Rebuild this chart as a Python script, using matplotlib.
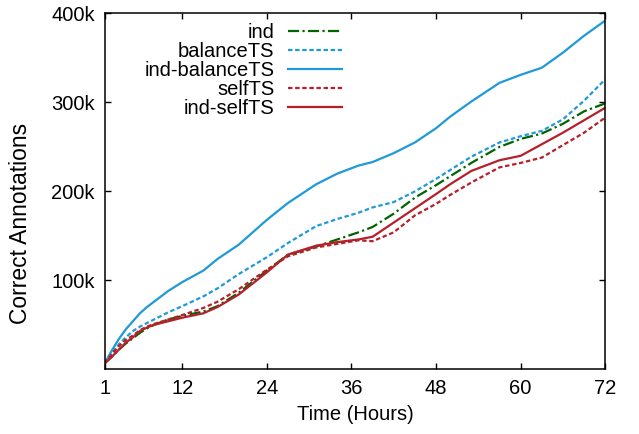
import matplotlib
matplotlib.use("Agg")
import matplotlib.pyplot as plt

plt.rcParams['font.family'] = ['Liberation Sans', 'DejaVu Sans']

# hours and correct annotations (in thousands)
hours = [1, 2, 3, 4, 5, 6, 7, 8, 10, 12, 15, 17, 20, 24, 27, 31, 34, 37, 39, 42, 45, 48, 50, 53, 57, 60, 63, 66, 69, 72]

ind = [6.7, 14, 22, 29, 35, 41, 46, 50, 56, 60, 65, 71, 86, 111, 129, 138, 146, 154, 160, 175, 193, 207, 217, 232, 250, 259, 265, 276, 290, 299]
balance_ts = [6.7, 18, 28, 36, 43, 48, 52, 56, 64, 71, 82, 91, 107, 126, 142, 161, 169, 176, 182, 188, 200, 214, 224, 239, 255, 262, 268, 281, 302, 326]
ind_balance_ts = [6.7, 21, 34, 45, 54, 63, 70, 76, 88, 98, 111, 124, 140, 168, 187, 208, 220, 229, 233, 243, 255, 271, 284, 301, 322, 331, 339, 356, 375, 392]
self_ts = [6.7, 17, 26, 33, 38, 44, 48, 51, 56, 61, 69, 76, 90, 112, 127, 137, 141, 145, 144, 154, 173, 186, 196, 210, 227, 232, 238, 252, 266, 283]
ind_self_ts = [6.7, 14, 22, 30, 36, 43, 47, 50, 54, 58, 63, 70, 84, 109, 129, 139, 143, 146, 149, 165, 181, 197, 208, 223, 235, 240, 253, 266, 280, 294]

x_ticks = [1, 12, 24, 36, 48, 60, 72]
y_ticks = [100, 200, 300, 400]

green = '#006400'
blue = '#1f9ad6'
red = '#b5202a'

fs = 14.5

fig = plt.figure(figsize=(6.39, 4.34), dpi=100)
ax = fig.add_axes([0.1638, 0.149, 0.7834, 0.820])

lw = 1.6
ax.plot(hours, ind, color=green, lw=lw, dashes=(5, 1.5, 1, 1.5), label='ind')
ax.plot(hours, balance_ts, color=blue, lw=lw, dashes=(2, 1.2), label='balanceTS')
ax.plot(hours, ind_balance_ts, color=blue, lw=lw, label='ind-balanceTS')
ax.plot(hours, self_ts, color=red, lw=lw, dashes=(2, 1.2), label='selfTS')
ax.plot(hours, ind_self_ts, color=red, lw=lw, label='ind-selfTS')

ax.set_xlim(1, 72)
ax.set_ylim(0, 400)
ax.set_xticks(x_ticks)
ax.set_yticks(y_ticks)
ax.set_yticklabels([f'{v}k' for v in y_ticks])
ax.tick_params(direction='in', length=4.5, width=1, top=True, right=True,
               labelsize=fs, pad=7)
for s in ax.spines.values():
    s.set_linewidth(1.1)

ax.set_xlabel('Time (Hours)', fontsize=fs, labelpad=5)
ax.set_ylabel('Correct Annotations', fontsize=16.5)
ax.yaxis.set_label_coords(-0.145, 0.41)

ax.legend(loc='upper right', bbox_to_anchor=(0.474, 0.974), frameon=False,
          markerfirst=False, fontsize=fs, handlelength=2.7, handletextpad=0.65,
          labelspacing=0.0, borderpad=0, borderaxespad=0)

fig.savefig('out.png', dpi=100)
